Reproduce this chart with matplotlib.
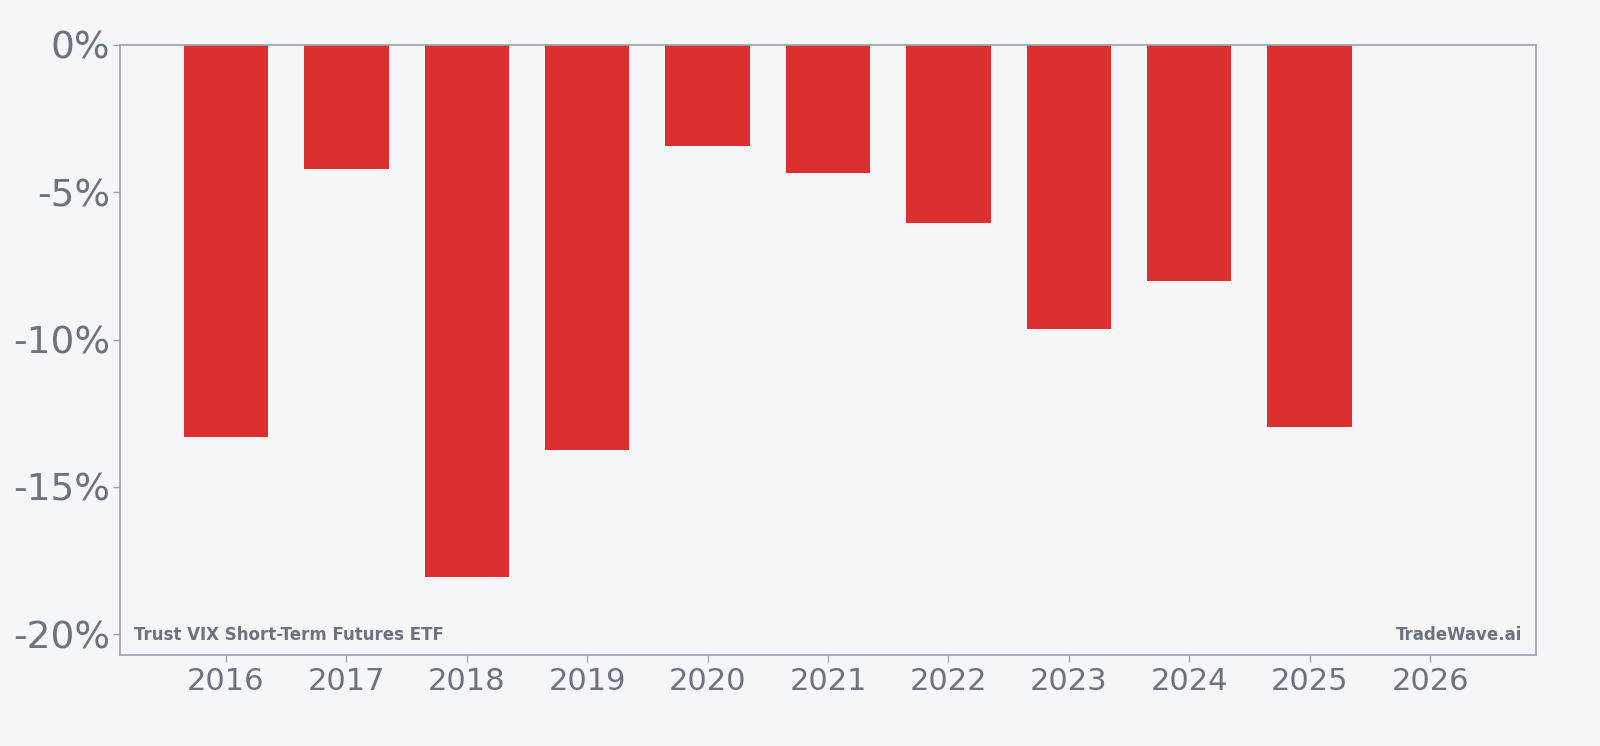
import matplotlib
matplotlib.use("Agg")
import matplotlib.pyplot as plt
from matplotlib.ticker import FuncFormatter

years = [2016, 2017, 2018, 2019, 2020, 2021, 2022, 2023, 2024, 2025]
returns = [-13.3, -4.2, -18.05, -13.75, -3.45, -4.35, -6.05, -9.65, -8.0, -12.95]
xticks = [2016, 2017, 2018, 2019, 2020, 2021, 2022, 2023, 2024, 2025, 2026]
yticks = [0, -5, -10, -15, -20]

bg = "#f4f6f8"
text_c = "#6b7280"
spine_c = "#9ca3af"
bar_c = "#dc3030"

fig = plt.figure(figsize=(16, 7.46), dpi=100, facecolor=bg)
ax = fig.add_axes([0.075, 0.122, 0.885, 0.818])
ax.set_facecolor(bg)

ax.bar(years, returns, width=0.7, color=bar_c, zorder=2)

ax.set_xlim(2015.12, 2026.88)
ax.set_ylim(-20.7, 0)
ax.set_xticks(xticks)
ax.set_yticks(yticks)
ax.yaxis.set_major_formatter(FuncFormatter(lambda v, p: f"{v:.0f}%"))
ax.tick_params(axis="both", colors=spine_c, labelcolor=text_c, length=5, width=1)
ax.tick_params(axis="x", labelsize=22)
ax.tick_params(axis="y", labelsize=27, pad=2)
for s in ax.spines.values():
    s.set_color(spine_c)
    s.set_linewidth(1.2)

ax.text(0.01, 0.018, "Trust VIX Short-Term Futures ETF", transform=ax.transAxes,
        fontsize=12, fontweight="bold", color=text_c, ha="left", va="bottom")
ax.text(0.99, 0.018, "TradeWave.ai", transform=ax.transAxes,
        fontsize=12, fontweight="bold", color=text_c, ha="right", va="bottom")

fig.savefig("out.png", dpi=100, facecolor=bg)
